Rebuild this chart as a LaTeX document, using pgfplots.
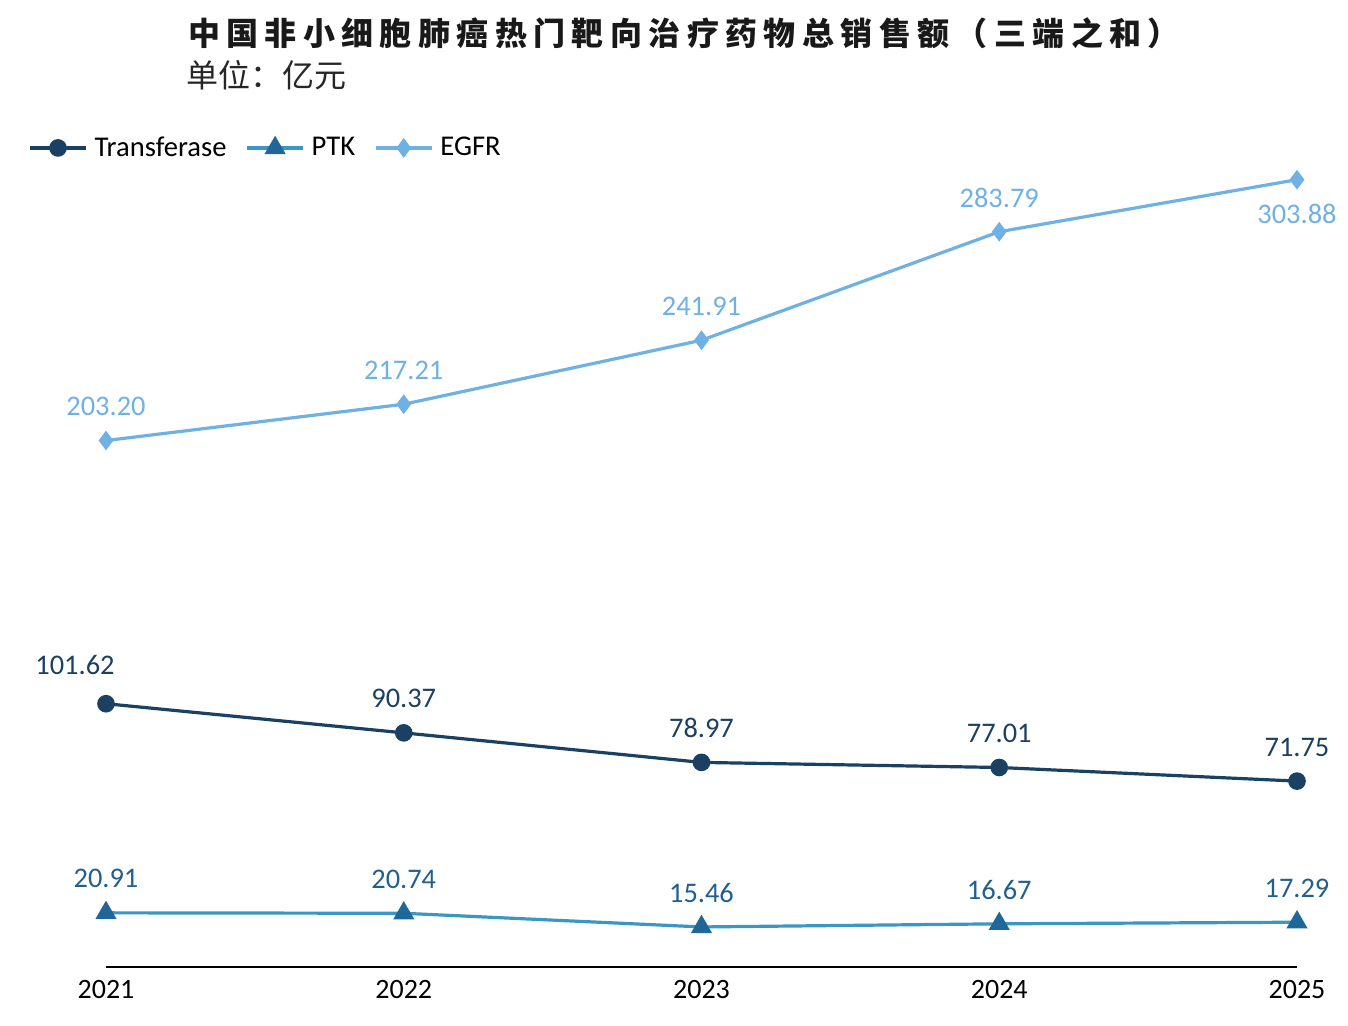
\documentclass[border=0pt]{standalone}
\usepackage{pgfplots}
\pgfplotsset{compat=1.18}
\usepackage{fontspec}
\setmainfont{Carlito}
\newfontfamily\cjk{Noto Sans CJK SC}
\newfontfamily\cjkt[LetterSpace=20]{Noto Sans CJK SC}
\definecolor{cTr}{HTML}{1A4062}
\definecolor{cPTK}{HTML}{3A96C2}
\definecolor{cPTKm}{HTML}{1F6699}
\definecolor{cPTKl}{HTML}{215F90}
\definecolor{cEG}{HTML}{6FB1E2}
\begin{document}
\begin{tikzpicture}
\useasboundingbox (-53pt,-29pt) rectangle (621pt,483.5pt);
\begin{axis}[
  at={(0,0)}, anchor=south west,
  scale only axis, width=595.5pt, height=427.5pt,
  xmin=2021, xmax=2025, ymin=0, ymax=330,
  clip=false,
  axis x line=bottom, axis y line=none,
  x axis line style={-, black, line width=1pt},
  xtick={2021,2022,2023,2024,2025},
  xticklabels={2021,2022,2023,2024,2025},
  major tick length=0pt,
  ytick=\empty,
  xticklabel style={font=\fontsize{14}{16}\selectfont, yshift=-3pt},
  legend columns=-1,
  legend style={draw=none, fill=none, inner sep=0pt,
    at={(axis description cs:-0.0655,0.958)}, anchor=west,
    font=\fontsize{14.3}{16}\selectfont,
    nodes={inner sep=3.5pt},
    /tikz/every even column/.append style={column sep=6pt}},
  legend image code/.code={\draw[mark repeat=2,mark phase=2,#1] plot coordinates {(0pt,0pt) (14pt,0pt) (28pt,0pt)};},
  /pgf/number format/assume math mode=true,
  nodes near coords={\pgfmathprintnumber[fixed,fixed zerofill,precision=2,assume math mode=true]{\pgfplotspointmeta}},
]
\addplot[color=cTr, line width=1.6pt, mark=*, mark size=3.6pt, mark options={fill=cTr}, nodes near coords={}] coordinates {(2021,101.62)(2022,90.37)(2023,78.97)(2024,77.01)(2025,71.75)};
\addlegendentry{Transferase}
\addplot[color=cPTK, line width=1.6pt, mark=triangle*, mark size=4.5pt, mark options={fill=cPTKm, draw=cPTKm}, nodes near coords={}] coordinates {(2021,20.91)(2022,20.74)(2023,15.46)(2024,16.67)(2025,17.29)};
\addlegendentry{PTK}
\addplot[color=cEG, line width=1.6pt, mark=diamond*, mark size=3.6pt, mark options={fill=cEG}, nodes near coords={}] coordinates {(2021,203.20)(2022,217.21)(2023,241.91)(2024,283.79)(2025,303.88)};
\addlegendentry{EGFR}
% labels
\addplot[draw=none, mark=none, forget plot, point meta=y,
  every node near coord/.append style={font=\fontsize{14.2}{16}\selectfont, color=cTr, anchor=center, yshift=17pt}]
  coordinates {(2022,90.37)(2023,78.97)(2024,77.01)(2025,71.75)};
\addplot[draw=none, mark=none, forget plot, point meta=y,
  every node near coord/.append style={font=\fontsize{14.2}{16}\selectfont, color=cTr, anchor=center, yshift=19.5pt, xshift=-15.5pt}]
  coordinates {(2021,101.62)};
\addplot[draw=none, mark=none, forget plot, point meta=y,
  every node near coord/.append style={font=\fontsize{14.2}{16}\selectfont, color=cPTKl, anchor=center, yshift=17pt}]
  coordinates {(2021,20.91)(2022,20.74)(2023,15.46)(2024,16.67)(2025,17.29)};
\addplot[draw=none, mark=none, forget plot, point meta=y,
  every node near coord/.append style={font=\fontsize{14.2}{16}\selectfont, color=cEG, anchor=center, yshift=17pt}]
  coordinates {(2021,203.20)(2022,217.21)(2023,241.91)(2024,283.79)};
\addplot[draw=none, mark=none, forget plot, point meta=y,
  every node near coord/.append style={font=\fontsize{14.2}{16}\selectfont, color=cEG, anchor=center, yshift=-17pt}]
  coordinates {(2025,303.88)};
\end{axis}
\node[font=\cjkt\bfseries\fontsize{16}{18}\selectfont, color=black!90, anchor=center] at (289pt,467pt) {中国非小细胞肺癌热门靶向治疗药物总销售额（三端之和）};
\node[font=\cjk\fontsize{16}{18}\selectfont, color=black!85, anchor=west, inner sep=0pt] at (40pt,446pt) {单位：亿元};
\end{tikzpicture}
\end{document}
